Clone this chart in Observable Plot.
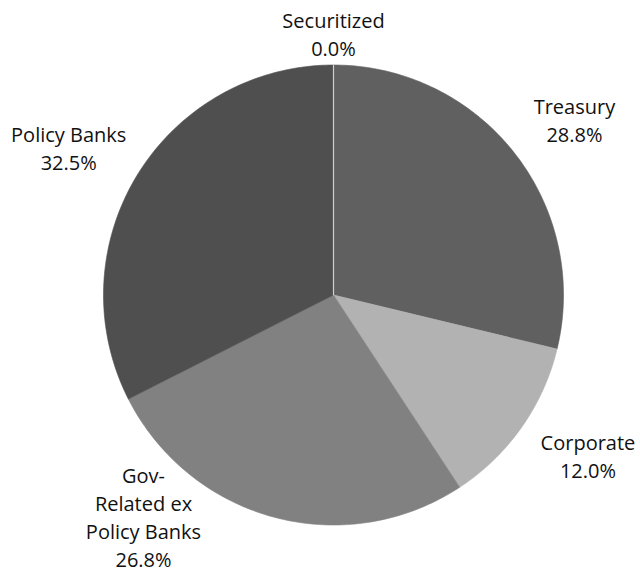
<!DOCTYPE html>
<html>
<head>
<meta charset="utf-8">
<script src="https://cdn.jsdelivr.net/npm/d3@7"></script>
<script src="https://cdn.jsdelivr.net/npm/@observablehq/plot@0.6"></script>
<style>
  html, body { margin: 0; padding: 0; background: #fff; }
  #chart svg { display: block; }
</style>
</head>
<body>
<div id="chart"></div>
<script>
// ---- data ----
const categories = ["Treasury", "Corporate", "Gov-Related ex Policy Banks", "Policy Banks", "Securitized"];
const shares = [28.8, 12.0, 26.8, 32.5, 0.0];
const labelNames = ["Treasury", "Corporate", "Gov-\nRelated ex\nPolicy Banks", "Policy Banks", "Securitized"];
const greys = ["#606060", "#b2b2b2", "#818181", "#4f4f4f", "#cfcfcf"];

// ---- layout constants ----
const W = 640, H = 573;
const CX = 333, CY = 294.5, R = 230;
const LABEL_R = R * 1.3;
// small label nudges (pixels, screen direction) mimicking the original label placement
const labelNudge = {
  "Treasury": [6, 9],
  "Corporate": [10, -12],
  "Gov-Related ex Policy Banks": [-113, -68],
  "Policy Banks": [-10, 9],
  "Securitized": [0, 37]
};

const rows = categories.map((c, i) => ({cat: c, share: shares[i], label: labelNames[i]}));
const arcs = d3.pie().sort(null).value(d => d.share).startAngle(0).endAngle(2 * Math.PI)(rows);

// slice outlines (in pixel units relative to centre, y upward)
const slicePts = [];
for (const a of arcs) {
  const n = Math.max(2, Math.ceil((a.endAngle - a.startAngle) / (2 * Math.PI) * 360));
  slicePts.push({cat: a.data.cat, x: 0, y: 0});
  for (let k = 0; k <= n; k++) {
    const t = a.startAngle + (a.endAngle - a.startAngle) * k / n;
    slicePts.push({cat: a.data.cat, x: R * Math.sin(t), y: R * Math.cos(t)});
  }
  slicePts.push({cat: a.data.cat, x: 0, y: 0});
}
const zeroCats = new Set(rows.filter(d => d.share === 0).map(d => d.cat));

const labels = arcs.map(a => {
  const m = (a.startAngle + a.endAngle) / 2;
  const [nx, ny] = labelNudge[a.data.cat] || [0, 0];
  return {
    cat: a.data.cat,
    x: LABEL_R * Math.sin(m) + nx,
    y: LABEL_R * Math.cos(m) - ny,
    text: a.data.label + "\n" + a.data.share.toFixed(1) + "%"
  };
});

const chart = Plot.plot({
  width: W,
  height: H,
  margin: 0,
  x: {domain: [-CX, W - CX], axis: null},
  y: {domain: [-(H - CY), CY], axis: null},
  color: {domain: categories, range: greys},
  marks: [
    Plot.line(slicePts.filter(d => !zeroCats.has(d.cat)), {
      x: "x", y: "y", z: "cat", fill: "cat", stroke: "cat", strokeWidth: 0.6, curve: "linear"
    }),
    Plot.line(slicePts.filter(d => zeroCats.has(d.cat)), {
      x: "x", y: "y", z: "cat", stroke: "cat", strokeWidth: 1.2, curve: "linear"
    }),
    Plot.text(labels, {
      x: "x", y: "y", text: "text",
      fontSize: 20, lineHeight: 1.4,
      fontFamily: "'Open Sans', sans-serif",
      fill: "#111", textAnchor: "middle", lineAnchor: "middle"
    })
  ]
});
document.getElementById("chart").appendChild(chart);
</script>
</body>
</html>
